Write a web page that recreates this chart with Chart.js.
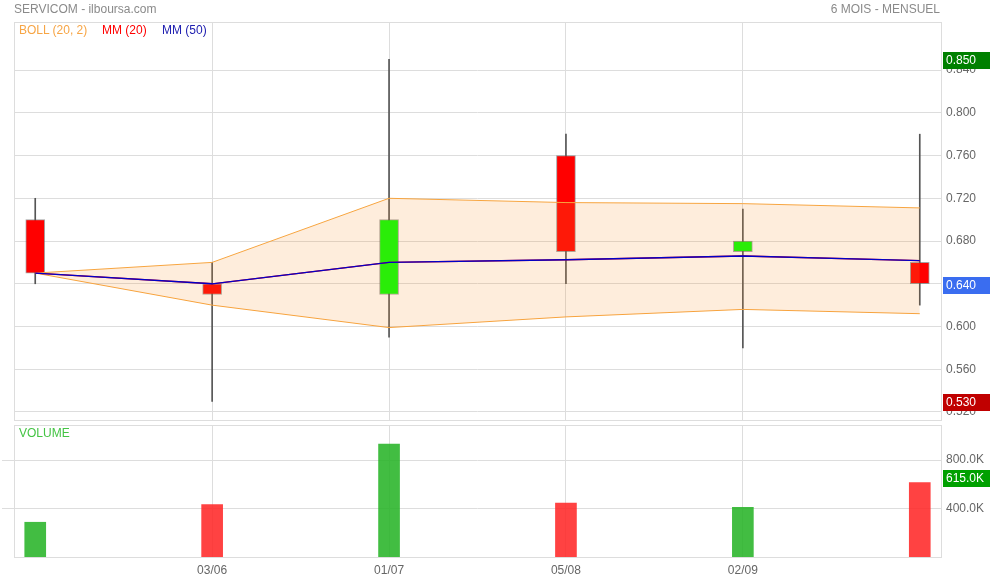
<!DOCTYPE html>
<html>
<head>
<meta charset="utf-8">
<script src="https://cdn.jsdelivr.net/npm/chart.js@4.4.1/dist/chart.umd.min.js"></script>
<style>
  body { margin: 0; background: #fff; font-family: "Liberation Sans", Arial, sans-serif; }
  #wrap { position: relative; width: 990px; height: 580px; overflow: hidden; }
  canvas { position: absolute; left: 0; }
  #priceChart { top: 0; }
  #volChart { top: 421px; }
  .txt { position: absolute; font-size: 12px; line-height: 14px; white-space: nowrap; z-index: 2; }
</style>
</head>
<body>
<div id="wrap">
  <canvas id="priceChart" width="990" height="421"></canvas>
  <canvas id="volChart" width="990" height="159"></canvas>
  <div class="txt" style="left:14px; top:2px; color:#8a8a8a;">SERVICOM - ilboursa.com</div>
  <div class="txt" style="right:50px; top:2px; color:#8a8a8a;">6 MOIS - MENSUEL</div>
  <div class="txt" style="left:19px; top:23px; color:#f7a545;">BOLL (20, 2)</div>
  <div class="txt" style="left:102px; top:23px; color:#ff0000;">MM (20)</div>
  <div class="txt" style="left:162px; top:23px; color:#2020b0;">MM (50)</div>
  <div class="txt" style="left:19px; top:426px; color:#44c444;">VOLUME</div>
</div>
<script>
Chart.defaults.font.family = '"Liberation Sans", Arial, sans-serif';
Chart.defaults.font.size = 12;

// monthly candles, 6 months
const dateLabels = ["", "03/06", "01/07", "05/08", "02/09", ""];
const openP  = [0.70, 0.64, 0.63, 0.76, 0.67, 0.66];
const highP  = [0.72, 0.66, 0.85, 0.78, 0.71, 0.78];
const lowP   = [0.64, 0.53, 0.59, 0.64, 0.58, 0.62];
const closeP = [0.65, 0.63, 0.70, 0.67, 0.68, 0.64];

// indicators
const bollUp  = [0.650, 0.660, 0.720, 0.716, 0.715, 0.711];
const bollLow = [0.650, 0.620, 0.599, 0.609, 0.616, 0.612];
const mm20    = [0.650, 0.640, 0.660, 0.6625, 0.666, 0.6617];
const mm50    = [0.650, 0.640, 0.660, 0.6625, 0.666, 0.6617];

const volumes = [287000, 432000, 933000, 446000, 410000, 615000];

const priceTicks = [0.52, 0.56, 0.60, 0.64, 0.68, 0.72, 0.76, 0.80, 0.84];
const volTicks = [400000, 800000];
const dateTicks = [1, 2, 3, 4];

const grid = "#dddddd";
const up = "#00ff00", down = "#ff0000";
const candleCol = openP.map((o, i) => closeP[i] >= o ? up : down);
// volume colour follows close vs previous close
const volCol = closeP.map((c, i) => (i === 0 || c >= closeP[i - 1]) ? "rgba(40,180,40,0.88)" : "rgba(255,40,40,0.88)");

const pts = arr => arr.map((v, i) => ({ x: i, y: v }));
const setTicks = vals => scale => { scale.ticks = vals.map(v => ({ value: v })); };
const noPad = w => s => { s.width = w; s.paddingTop = 0; s.paddingBottom = 0; };

const framePlugin = {
  id: "frame",
  beforeDatasetsDraw(chart) {
    const a = chart.chartArea, ctx = chart.ctx;
    ctx.save();
    ctx.strokeStyle = grid;
    ctx.lineWidth = 1;
    ctx.strokeRect(Math.floor(a.left) + 0.5, Math.floor(a.top) + 0.5,
      Math.floor(a.right) - Math.floor(a.left), Math.floor(a.bottom) - Math.floor(a.top));
    ctx.restore();
  }
};

function drawTag(chart, y, text, bg) {
  const ctx = chart.ctx;
  ctx.save();
  ctx.fillStyle = bg;
  ctx.fillRect(943, Math.round(y - 8), 47, 17);
  ctx.fillStyle = "#fff";
  ctx.font = '12px "Liberation Sans", Arial, sans-serif';
  ctx.textBaseline = "middle";
  ctx.fillText(text, 946, Math.round(y) + 0.5);
  ctx.restore();
}

const priceTags = {
  id: "priceTags",
  afterDraw(chart) {
    const s = chart.scales.y;
    const hi = Math.max(...highP), lo = Math.min(...lowP), last = closeP[closeP.length - 1];
    drawTag(chart, s.getPixelForValue(hi) + 1, hi.toFixed(3), "#008000");
    drawTag(chart, s.getPixelForValue(last) + 1, last.toFixed(3), "#3a6df0");
    drawTag(chart, s.getPixelForValue(lo) + 1, lo.toFixed(3), "#c00000");
  }
};

const volTag = {
  id: "volTag",
  afterDraw(chart) {
    const s = chart.scales.y;
    const last = volumes[volumes.length - 1];
    drawTag(chart, s.getPixelForValue(last) - 5, (last / 1000).toFixed(1) + "K", "#00a000");
  }
};

new Chart(document.getElementById("priceChart"), {
  type: "bar",
  data: {
    datasets: [
      { type: "line", label: "MM (50)", data: pts(mm50), borderColor: "#0000c8", borderWidth: 1.3,
        pointRadius: 0, fill: false, order: 0 },
      { type: "line", label: "MM (20)", data: pts(mm20), borderColor: "#ff0000", borderWidth: 1.3,
        pointRadius: 0, fill: false, order: 1 },
      { type: "line", label: "BOLL up", data: pts(bollUp), borderColor: "#f7a540", borderWidth: 1,
        pointRadius: 0, fill: "+1", backgroundColor: "rgba(250,150,50,0.17)", order: 2 },
      { type: "line", label: "BOLL low", data: pts(bollLow), borderColor: "#f7a540", borderWidth: 1,
        pointRadius: 0, fill: false, order: 3 },
      { label: "body", data: openP.map((o, i) => ({ x: i, y: [o, closeP[i]] })),
        backgroundColor: candleCol, borderColor: "rgba(90,90,90,0.55)", borderWidth: 1,
        borderSkipped: false, barThickness: 19, grouped: false, order: 4 },
      { label: "wick", data: lowP.map((l, i) => ({ x: i, y: [l, highP[i]] })),
        backgroundColor: "#555555", barThickness: 1, grouped: false, order: 5 }
    ]
  },
  options: {
    responsive: false,
    animation: false,
    layout: { padding: { left: 14, top: 22, right: 0, bottom: 1 } },
    plugins: { legend: { display: false }, tooltip: { enabled: false } },
    scales: {
      x: {
        type: "linear", min: -0.12, max: 5.12, offset: false,
        afterBuildTicks: setTicks(dateTicks),
        afterFit: s => { s.height = 0; },
        ticks: { display: false },
        grid: { color: grid, drawTicks: false, offset: false },
        border: { display: false }
      },
      y: {
        position: "right", min: 0.5125, max: 0.885,
        afterBuildTicks: setTicks(priceTicks),
        afterFit: noPad(49),
        ticks: { color: "#666", padding: 5, callback: v => v.toFixed(3) },
        grid: { color: grid, drawTicks: false },
        border: { display: false }
      }
    }
  },
  plugins: [framePlugin, priceTags]
});

new Chart(document.getElementById("volChart"), {
  type: "bar",
  data: {
    datasets: [
      { label: "Volume", data: pts(volumes), backgroundColor: volCol,
        barThickness: 21, grouped: false }
    ]
  },
  options: {
    responsive: false,
    animation: false,
    layout: { padding: { left: 0, top: 4, right: 0, bottom: 0 } },
    plugins: { legend: { display: false }, tooltip: { enabled: false } },
    scales: {
      x: {
        type: "linear", min: -0.12, max: 5.12, offset: false,
        afterBuildTicks: setTicks(dateTicks),
        afterFit: s => { s.height = 23; },
        ticks: { color: "#666", padding: 6, callback: v => dateLabels[v] },
        grid: { color: grid, drawTicks: false, offset: false },
        border: { display: false }
      },
      y: {
        position: "right", min: 0, max: 1090000,
        afterBuildTicks: setTicks(volTicks),
        afterFit: noPad(49),
        ticks: { color: "#666", padding: 5, callback: v => (v / 1000).toFixed(1) + "K" },
        grid: { color: grid, drawTicks: false },
        border: { display: false }
      },
      yl: {
        position: "left", min: 0, max: 1090000,
        afterBuildTicks: setTicks(volTicks),
        afterFit: noPad(14),
        ticks: { display: false },
        grid: { color: grid, drawOnChartArea: false, drawTicks: true, tickLength: 12 },
        border: { display: false }
      }
    }
  },
  plugins: [framePlugin, volTag]
});
</script>
</body>
</html>
